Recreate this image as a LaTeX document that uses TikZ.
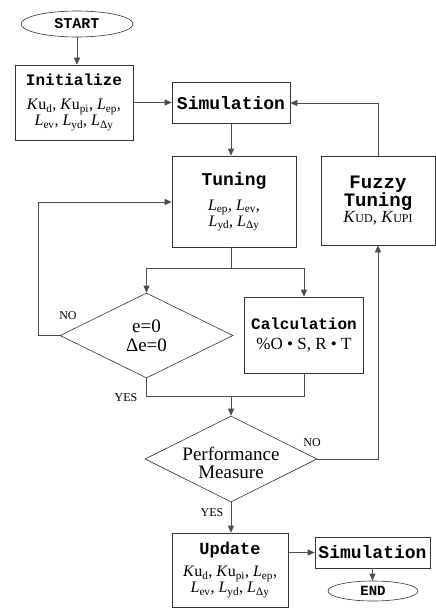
\documentclass[tikz,border=0pt]{standalone}
\usepackage{fontspec}
\setmainfont{Liberation Serif}
\setmonofont{Liberation Mono}
\usetikzlibrary{arrows.meta, positioning, calc, shapes.geometric}

\newcommand{\blockhead}[1]{\ttfamily\bfseries\fontsize{#1}{#1}\selectfont}
\newcommand{\lsub}[1]{\textsubscript{#1}}
\newcommand{\smallsc}[1]{{\fontsize{12}{12}\selectfont #1}}

\begin{document}
\begin{tikzpicture}[x=1pt, y=-1pt,
    block/.style={draw=black!80, line width=0.6pt, rectangle, align=center, inner sep=0pt,
        font=\fontsize{16}{16}\selectfont},
    term/.style={draw=black!80, line width=0.6pt, ellipse, inner sep=0pt},
    decision/.style={draw=black!80, line width=0.6pt, diamond, inner sep=0pt},
    line/.style={black!70, line width=0.6pt},
    flow/.style={line, -{Triangle[length=7pt, width=6pt]}},
    answer/.style={font=\fontsize{12}{14}\selectfont}
]
\useasboundingbox (0,0) rectangle (436,611);

% terminals
\node[term, minimum width=112pt, minimum height=26pt, font=\blockhead{15}] (start) at (77,24) {START};
\node[term, minimum width=90pt, minimum height=20pt, font=\blockhead{14}] (end) at (373,591) {END};

% blocks
\node[block, minimum width=118pt, minimum height=75pt] (init) at (74,102.5)
    {{\blockhead{16}Initialize}\\[8pt]
     \textit{K}u\lsub{d}, \textit{K}u\lsub{pi}, \textit{L}\lsub{ep},\\
     \textit{L}\lsub{ev}, \textit{L}\lsub{yd}, \textit{L}\lsub{Δy}};
\node[block, minimum width=118pt, minimum height=41pt] (sim1) at (231,103)
    {\blockhead{18}Simulation};
\node[block, minimum width=124pt, minimum height=91pt] (tune) at (234,201.5)
    {{\blockhead{18}Tuning}\\[9pt]
     \textit{L}\lsub{ep}, \textit{L}\lsub{ev},\\
     \textit{L}\lsub{yd}, \textit{L}\lsub{Δy}};
\node[block, minimum width=114pt, minimum height=89pt] (fuzzy) at (378,200.5)
    {{\blockhead{19}Fuzzy}\\{\blockhead{19}Tuning}\\
     {\fontsize{17}{17}\selectfont\textit{K}\smallsc{UD}, \textit{K}\smallsc{UPI}}};
\node[block, minimum width=119pt, minimum height=76pt] (calc) at (304,335)
    {{\blockhead{16}Calculation}\\[4pt]
     {\fontsize{17}{19}\selectfont \%O • S, R • T}};
\node[block, minimum width=116pt, minimum height=74pt] (update) at (230,570)
    {{\blockhead{17}Update}\\[6pt]
     \textit{K}u\lsub{d}, \textit{K}u\lsub{pi}, \textit{L}\lsub{ep},\\
     \textit{L}\lsub{ev}, \textit{L}\lsub{yd}, \textit{L}\lsub{Δy}};
\node[block, minimum width=115pt, minimum height=31pt] (sim2) at (372.5,552.5)
    {\blockhead{18}Simulation};

% decisions
\node[decision, minimum width=173pt, minimum height=85pt] (zero) at (146.5,335.5) {};
\node[align=center, font=\fontsize{19}{19}\selectfont] (zerotext) at (zero) {e=0\\Δe=0};
\node[decision, minimum width=172pt, minimum height=86pt] (perf) at (231,459) {};
\node[align=center, font=\fontsize{19}{18}\selectfont] (perftext) at (231,463) {Performance\\Measure};

% answers
\node[answer] (no1) at (68,316) {NO};
\node[answer] (yes1) at (126,398) {YES};
\node[answer] (no2) at (312,443) {NO};
\node[answer] (yes2) at (212,513) {YES};

% helper points
\coordinate (split) at (231,268);
\coordinate (loop) at (38,202);
\coordinate (merge) at (231,396);

% connectors
\draw[flow] (start.south) -- (start.south |- init.north);
\draw[flow] (init.east) -- (init.east -| sim1.west);
\draw[flow] (sim1.south) -- (sim1.south |- tune.north);
\draw[line] (sim1.south |- tune.south) -- (split);
\draw[flow] (split) -| (zero.north);
\draw[flow] (split) -| (calc.north);
\draw[flow] (zero.west) -| (loop) -- (loop -| tune.west);
\draw[line] (zero.south) |- (merge -| calc.south) -- (calc.south);
\draw[flow] (merge) -- (merge |- perf.north);
\draw[flow] (perf.east) -| (fuzzy.south);
\draw[flow] (fuzzy.north) |- (sim1.east);
\draw[flow] (perf.south) -- (perf.south |- update.north);
\draw[flow] (update.east |- sim2.west) -- (sim2.west);
\draw[flow] (sim2.south) -- (sim2.south |- end.north);
\end{tikzpicture}
\end{document}
